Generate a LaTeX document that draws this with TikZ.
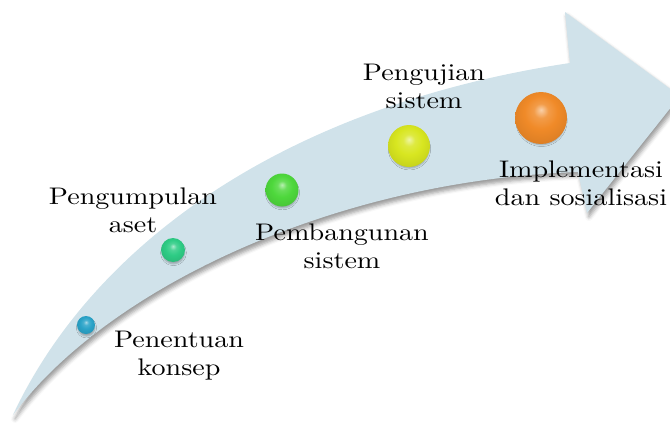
\documentclass[tikz,border=0pt]{standalone}
\usepackage{fontspec}
\setmainfont{lmroman10-regular.otf}[FakeStretch=1.17]
\usetikzlibrary{shadows.blur}
\definecolor{arrowblue}{HTML}{D0E2EA}
\definecolor{cA}{HTML}{2AA3C8}
\definecolor{cB}{HTML}{2ECC85}
\definecolor{cC}{HTML}{4ED83C}
\definecolor{cD}{HTML}{D8E620}
\definecolor{cE}{HTML}{F08A28}
\makeatletter
\pgfdeclareradialshading[tikz@ball]{glossball}{\pgfqpoint{0bp}{8bp}}{%
  color(0bp)=(tikz@ball!40!white);
  color(7bp)=(tikz@ball!85!white);
  color(16bp)=(tikz@ball);
  color(28bp)=(tikz@ball!92!black);
  color(40bp)=(tikz@ball!75!black);
  color(50bp)=(tikz@ball!65!black)}
\makeatother
\begin{document}
\begin{tikzpicture}[x=1pt,y=-1pt,
  lbl/.style={font=\fontsize{24}{28}\selectfont, align=center, inner sep=0pt, anchor=north},
  ballnode/.style={circle, inner sep=0pt, minimum size=#1, blur shadow={shadow xshift=0.5pt, shadow yshift=-3pt, shadow scale=0.92, shadow blur radius=2pt, shadow opacity=30}}]
\useasboundingbox (0,0) rectangle (670,423);
\begin{scope}
\clip (0,0) rectangle (670,423);
\fill[arrowblue, blur shadow={shadow xshift=2pt, shadow yshift=-4pt, shadow blur radius=4pt, shadow opacity=40}]
  (13,415) .. controls (95,240) and (290,105) .. (570,63) -- (565,12) -- (680,96) -- (587,213) -- (578,172)
  .. controls (340,180) and (110,285) .. (13,415) -- cycle;
\end{scope}
\node[ballnode=18pt, ball color=cA, shading=glossball] (b1) at (86,325) {};
\node[ballnode=24pt, ball color=cB, shading=glossball] (b2) at (173,250) {};
\node[ballnode=33pt, ball color=cC, shading=glossball] (b3) at (282,190) {};
\node[ballnode=42pt, ball color=cD, shading=glossball] (b4) at (409,146) {};
\node[ballnode=52pt, ball color=cE, shading=glossball] (b5) at (541,118) {};
\node[lbl] (l1) at (179,330.6) {Penentuan\\konsep};
\node[lbl] (l2) at (133,187.3) {Pengumpulan\\aset};
\node[lbl] (l3) at (342,223.3) {Pembangunan\\sistem};
\node[lbl] (l4) at (424,63.6) {Pengujian\\sistem};
\node[lbl] (l5) at (581,160.3) {Implementasi\\dan sosialisasi};
\end{tikzpicture}
\end{document}
